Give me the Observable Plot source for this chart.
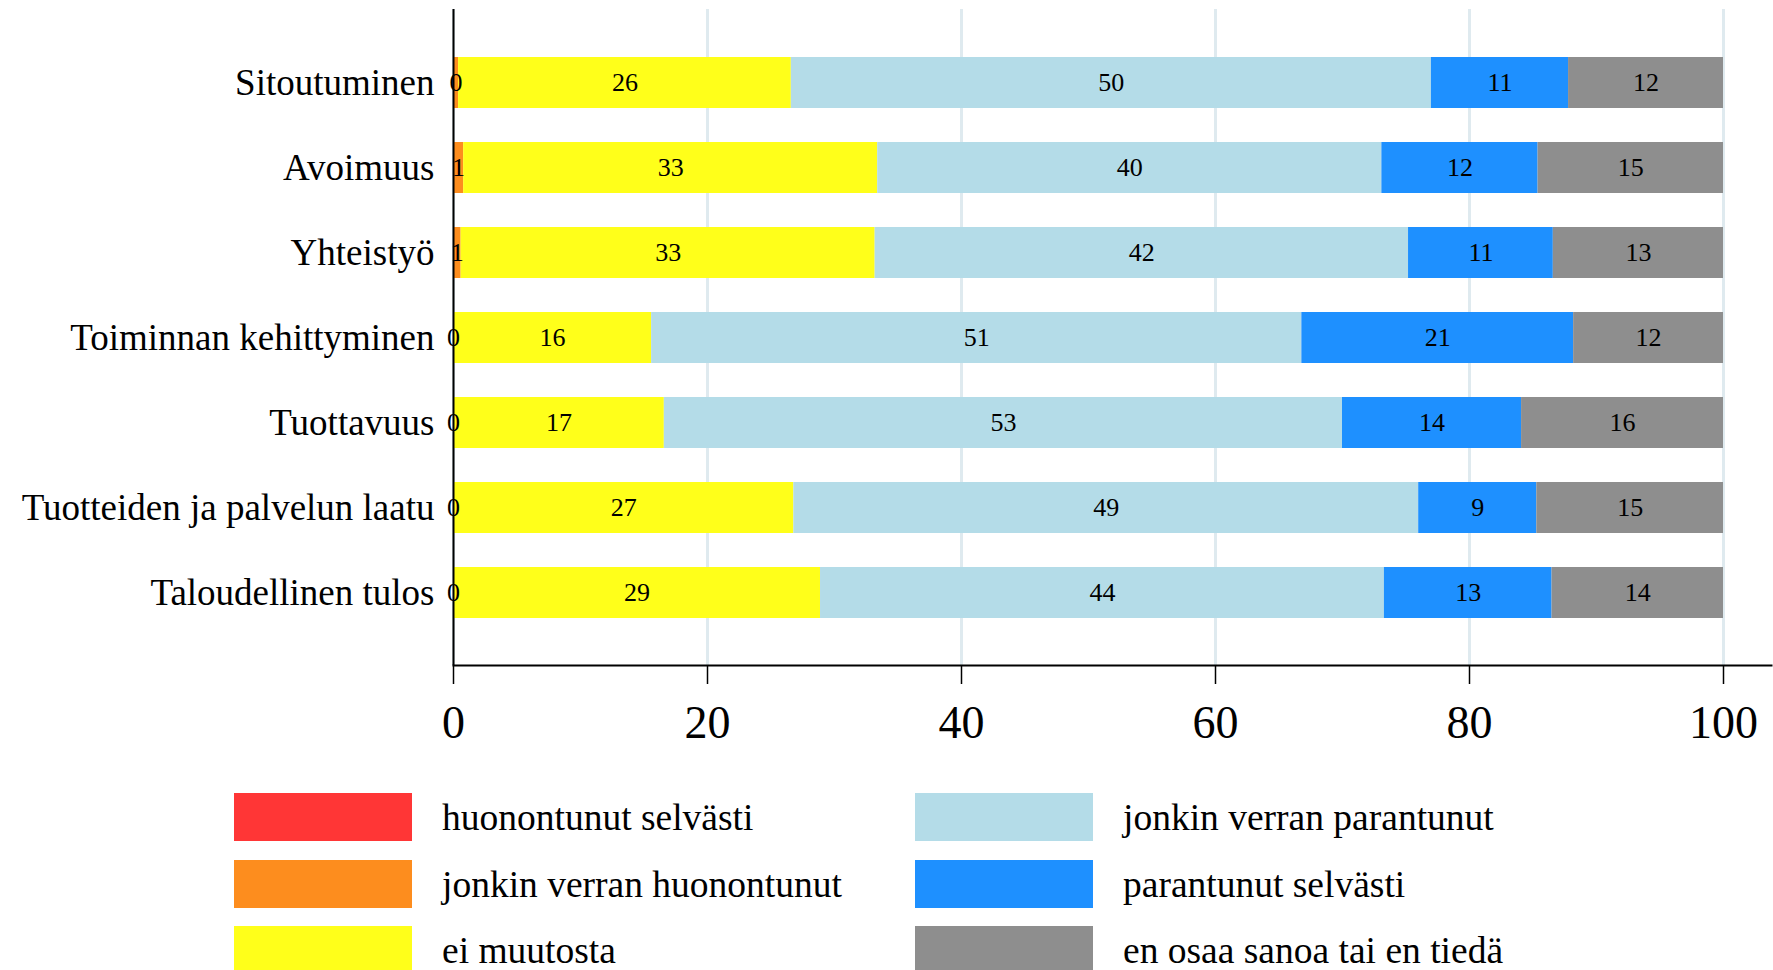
<!DOCTYPE html>
<html><head><meta charset="utf-8">
<script src="https://cdn.jsdelivr.net/npm/d3@7"></script>
<script src="https://cdn.jsdelivr.net/npm/@observablehq/plot@0.6"></script>
<style>
body{margin:0;background:#fff;font-family:"Liberation Serif","Times New Roman",serif;overflow:hidden;}
#chart{position:relative;width:1773px;height:970px;}
#legend{position:absolute;left:234px;top:793px;display:grid;grid-auto-flow:column;grid-template-rows:repeat(3,66.5px);grid-template-columns:681px 660px;}
.item{display:flex;align-items:flex-start;height:66.5px}
.sw{width:178px;height:48px;flex:none}
.lab{margin-left:30px;font-size:37.5px;line-height:50px;color:#000;white-space:nowrap}
</style></head><body><div id="chart"></div>
<script>
const categories = ["Sitoutuminen","Avoimuus","Yhteistyö","Toiminnan kehittyminen","Tuottavuus","Tuotteiden ja palvelun laatu","Taloudellinen tulos"];
const series = ["huonontunut selvästi","jonkin verran huonontunut","ei muutosta","jonkin verran parantunut","parantunut selvästi","en osaa sanoa tai en tiedä"];
const colors = ["#ff3636","#fd8d1e","#ffff1a","#b4dce8","#1e90ff","#8e8e8e"];
const huonontunutSelvasti     = [0, 0, 0, 0, 0, 0, 0];
const jonkinVerranHuonontunut = [0.4, 0.8, 0.6, 0, 0, 0, 0];
const eiMuutosta              = [26.2, 32.6, 32.6, 15.6, 16.6, 26.8, 28.9];
const jonkinVerranParantunut  = [50.4, 39.7, 42.0, 51.2, 53.4, 49.2, 44.4];
const parantunutSelvasti      = [10.8, 12.3, 11.4, 21.4, 14.1, 9.3, 13.2];
const enOsaaSanoa             = [12.2, 14.6, 13.4, 11.8, 15.9, 14.7, 13.5];
const xTicks = [0, 20, 40, 60, 80, 100];

const seriesValues = [huonontunutSelvasti, jonkinVerranHuonontunut, eiMuutosta, jonkinVerranParantunut, parantunutSelvasti, enOsaaSanoa];
const rows = [];
seriesValues.forEach((vals, si) => vals.forEach((v, ci) => rows.push({category: categories[ci], series: series[si], value: v})));

const plot = Plot.plot({
  width: 1773, height: 770,
  marginLeft: 453, marginRight: 2, marginTop: 9, marginBottom: 105,
  x: {domain: [0, 100], range: [453, 1723]},
  y: {domain: categories, paddingInner: 0.4, paddingOuter: 0.55},
  color: {domain: series, range: colors},
  style: {fontFamily: "'Liberation Serif', 'Times New Roman', serif", background: "white", color: "black"},
  marks: [
    Plot.gridX(xTicks, {stroke: "#dfeaef", strokeOpacity: 1, strokeWidth: 3}),
    Plot.barX(rows, Plot.stackX({x: "value", y: "category", fill: "series"})),
    Plot.text(rows, Plot.stackX({x: "value", y: "category", z: "series",
      text: d => d.series === series[0] ? null : String(Math.round(d.value)),
      fontSize: 26, fill: "black"})),
    Plot.axisY({tickSize: 0, tickPadding: 19, fontSize: 37, label: null}),
    Plot.axisX({ticks: xTicks, tickSize: 19, tickPadding: 21, fontSize: 46, strokeWidth: 1.5, label: null}),
    Plot.frame({anchor: "bottom", strokeWidth: 2}),
    Plot.ruleX([0], {strokeWidth: 2})
  ]
});
const chart = document.getElementById("chart");
chart.appendChild(plot);

const legend = document.createElement("div");
legend.id = "legend";
series.forEach((s, i) => {
  const item = document.createElement("div");
  item.className = "item";
  const sw = document.createElement("div");
  sw.className = "sw";
  sw.style.background = colors[i];
  const lab = document.createElement("span");
  lab.className = "lab";
  lab.textContent = s;
  item.appendChild(sw); item.appendChild(lab);
  legend.appendChild(item);
});
chart.appendChild(legend);
</script></body></html>
